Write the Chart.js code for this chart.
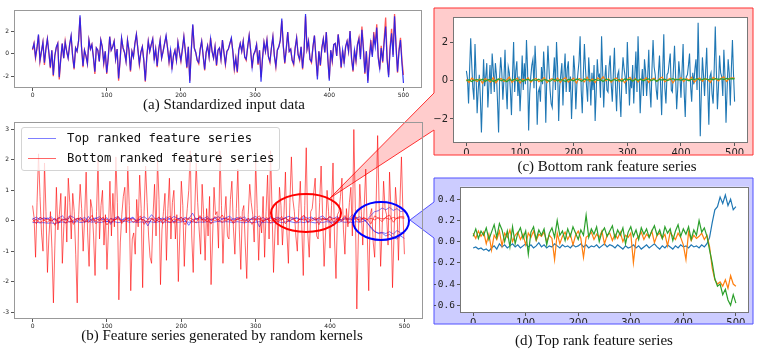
<!DOCTYPE html>
<html>
<head>
<meta charset="utf-8">
<script src="https://cdn.jsdelivr.net/npm/chart.js@4.4.1/dist/chart.umd.min.js"></script>
<style>
  html, body { margin: 0; padding: 0; background: #fff; }
  #fig { position: relative; width: 760px; height: 349px; overflow: hidden; }
  #fig canvas { position: absolute; z-index: 1; }
  svg { position: absolute; left: 0; top: 0; }
  #back { z-index: 0; }
  #front { z-index: 2; }
  .cap { position: absolute; z-index: 3; font-family: "Liberation Serif", "Times New Roman", serif; font-size: 15px;
         line-height: 1; color: #111; white-space: nowrap; transform: translateX(-50%); }
  #legend { position: absolute; z-index: 3; left: 21px; top: 127px; width: 257px; height: 42px;
            background: rgba(255,255,255,0.8); border: 1px solid #d4d4d4; border-radius: 3px; }
  .lg-line { position: absolute; height: 1.3px; width: 28px; left: 6px; }
  .lg-text { position: absolute; left: 45px; font-family: "DejaVu Sans Mono", monospace; font-size: 12.3px;
             line-height: 14px; color: #111; white-space: nowrap; }
</style>
</head>
<body>
<div id="fig">
  <svg id="back" width="760" height="349">
    <polygon points="434,8 753,8 753,155 434,155 434,130 330,198 434,93"
             fill="rgba(255,0,0,0.2)" stroke="#ff3030" stroke-width="1"/>
    <polygon points="434,178 753,178 753,324 434,324 434,238 410,220 434,202"
             fill="rgba(0,0,255,0.2)" stroke="#5050ff" stroke-width="1"/>
  </svg>
  <svg id="front" width="760" height="349">
    <ellipse cx="306" cy="213" rx="35" ry="19" fill="none" stroke="#ff0000" stroke-width="2"/>
    <ellipse cx="381" cy="221" rx="28" ry="19" fill="none" stroke="#0000ff" stroke-width="2"/>
  </svg>
  <div id="legend">
    <div class="lg-line" style="top:10px;background:rgba(0,0,255,0.5)"></div>
    <div class="lg-text" style="top:3px">Top ranked feature series</div>
    <div class="lg-line" style="top:30px;background:rgba(255,0,0,0.6)"></div>
    <div class="lg-text" style="top:23px">Bottom ranked feature series</div>
  </div>
  <div class="cap" style="left:224px;top:97px">(a) Standardized input data</div>
  <div class="cap" style="left:222px;top:328px">(b) Feature series generated by random kernels</div>
  <div class="cap" style="left:607px;top:159px">(c) Bottom rank feature series</div>
  <div class="cap" style="left:594px;top:333px">(d) Top rank feature series</div>
</div>
<script>
// (a) standardized input, sampled every 2 steps
const inputBlue = [
  0.4,0.9,-0.3,0.5,1.7,-0.6,0.2,1.0,-0.8,0.4,1.3,0.1,-1.2,0.3,-1.9,-0.2,0.6,0.9,-2.1,-0.5,
  0.9,-0.4,1.0,0.2,-0.4,0.8,1.6,-0.2,-1.3,0.5,0.2,1.1,3.4,0.6,-1.1,0.3,-0.2,-0.9,1.2,0.4,
  0.8,-0.3,-1.6,0.5,0.3,-0.7,1.2,0.6,-0.8,0.2,-1.7,-0.4,1.5,0.3,0.6,1.1,-0.5,0.4,-2.2,-0.6,
  1.4,0.5,0.1,-0.7,1.2,0.3,-1.5,0.2,-0.3,0.9,1.7,0.4,-0.9,0.1,0.6,-0.6,-2.4,-0.3,1.1,0.2,
  0.8,1.3,-0.5,0.4,-1.1,0.3,1.2,-0.4,0.2,0.9,1.6,0.5,-0.7,0.3,-1.3,-0.2,0.3,-0.6,1.0,0.1,
  -0.6,0.4,1.5,0.2,-1.2,0.6,-2.6,0.3,2.6,0.5,0.1,-0.6,-0.8,0.4,1.1,-0.2,-1.4,0.1,0.7,-0.3,
  1.3,0.2,-0.4,0.6,-1.0,0.3,0.5,-0.5,1.2,0.1,-0.9,0.2,0.4,0.9,1.4,0.2,-1.3,-0.4,-1.6,0.3,
  0.9,0.2,1.1,-0.3,-0.5,0.6,1.6,0.3,-1.2,-0.1,0.2,0.8,-0.9,0.3,-2.5,-0.4,1.0,0.2,1.2,-0.3,
  -0.7,0.5,1.5,-0.2,-1.1,0.3,0.6,1.2,3.1,0.7,-0.8,0.4,1.9,0.2,0.4,-0.6,-0.9,0.5,1.4,-0.1,
  -0.5,0.6,-1.3,0.2,3.5,0.4,1.1,-0.5,-0.7,0.6,1.6,-0.3,-2.3,0.2,-1.0,0.5,1.3,0.1,1.9,-0.4,
  -2.4,0.3,-0.6,0.8,0.9,-0.2,1.7,0.5,-1.2,0.3,-0.8,0.6,1.1,0.2,2.0,-0.4,-1.5,0.3,-0.6,0.8,
  1.3,-0.5,2.1,0.4,-1.7,0.2,-2.6,-0.5,0.9,-0.3,1.5,0.6,2.3,-0.4,-1.3,0.5,-0.7,1.0,2.4,-0.6,
  -2.1,0.4,1.8,-0.3,3.3,0.6,-1.6,0.2,1.2,-0.9,-2.6];
const inputRed = [
  0.3,0.9,-0.4,0.5,1.6,-0.7,0.2,1.0,-1.0,0.4,1.3,0.1,-1.3,0.3,-2.0,-0.2,0.5,0.9,-2.3,-0.5,
  0.9,-0.4,1.1,0.2,-0.4,0.8,1.5,-0.2,-1.4,0.5,0.2,1.1,3.2,0.6,-1.2,0.3,-0.2,-0.9,1.2,0.4,
  0.8,-0.3,-1.8,0.5,0.3,-0.7,1.2,0.6,-0.9,0.2,-1.8,-0.4,1.5,0.3,0.6,1.1,-0.5,0.4,-2.4,-0.6,
  1.3,0.5,0.1,-0.7,1.2,0.3,-1.6,0.2,-0.3,0.9,1.7,0.4,-1.0,0.1,0.6,-0.6,-2.5,-0.3,1.1,0.2,
  0.8,1.3,-0.6,0.4,-1.2,0.3,1.2,-0.4,0.2,0.9,1.5,0.5,-0.8,0.3,-1.4,-0.2,0.3,-0.6,1.0,0.1,
  -0.7,0.4,1.5,0.2,-1.3,0.6,-2.4,0.3,2.5,0.5,0.1,-0.6,-0.9,0.4,1.1,-0.2,-1.5,0.1,0.7,-0.3,
  1.4,0.2,-0.4,0.6,-1.1,0.3,0.5,-0.5,1.2,0.1,-1.0,0.2,0.4,0.9,1.3,0.2,-1.4,-0.4,-1.7,0.3,
  0.9,0.2,1.1,-0.3,-0.6,0.6,1.6,0.3,-1.3,-0.1,0.2,0.8,-1.0,0.3,-2.1,-0.4,1.0,0.2,1.2,-0.3,
  -0.8,0.5,1.5,-0.2,-1.2,0.3,0.6,1.2,2.9,0.7,-0.9,0.4,1.9,0.2,0.4,-0.6,-1.0,0.5,1.4,-0.1,
  -0.6,0.6,-1.4,0.2,3.3,0.4,1.1,-0.5,-0.8,0.6,1.6,-0.3,-2.0,0.2,-1.1,0.5,1.3,0.1,1.9,-0.4,
  -2.2,0.3,-0.7,0.8,0.9,-0.2,1.7,0.5,-1.3,0.3,-0.9,0.6,1.1,0.2,2.0,-0.4,-1.6,0.3,-0.7,0.8,
  1.4,-0.3,2.4,0.6,-1.8,0.2,-2.4,-0.3,1.2,-0.1,1.9,0.8,2.6,-0.2,-1.4,0.7,-0.8,1.3,3.2,-0.4,
  -1.9,0.6,2.2,-0.1,3.5,0.8,-1.7,0.4,1.4,-0.6,-1.9];

// bottom ranked feature series (big one every 2 steps, small ones every 5)
const bottomBlue = [
  0.5,0.1,-1.2,0.6,2.2,0.8,-0.4,-1.0,1.9,0.3,-1.7,-0.5,0.3,-0.9,-2.7,-0.8,1.1,-0.3,0.2,0.9,
  -1.4,-0.2,0.8,-0.7,1.4,0.6,-0.6,0.9,0.3,-1.1,-2.7,0.2,1.2,0.4,-1.0,0.1,1.6,-0.4,-1.5,0.7,
  0.4,-0.5,-1.8,0.3,2.0,-0.6,0.5,1.0,-0.8,0.2,-1.6,-0.3,1.3,-0.5,0.9,-0.2,2.1,0.6,-2.6,-0.7,
  0.2,0.8,1.1,-0.4,1.8,0.5,-2.3,-0.6,-0.4,-1.1,0.7,-0.2,1.5,0.4,-2.2,0.3,1.8,0.6,-0.5,-1.2,
  -1.4,0.2,1.2,-0.5,2.0,0.7,-2.1,-0.3,0.3,0.9,-1.3,0.4,1.4,-0.6,0.6,1.0,-0.6,0.2,-2.0,-0.4,
  1.3,0.5,-1.5,-0.2,0.4,1.0,2.3,-0.5,-1.7,0.3,1.9,0.6,-0.3,-1.1,1.2,0.2,-1.3,0.4,-0.5,0.8,
  -2.1,-0.6,1.1,0.2,0.3,-0.9,2.3,0.5,-1.4,0.1,0.8,-0.5,-0.6,0.7,1.3,-0.2,-1.1,0.4,1.7,-0.3,
  -1.6,0.3,0.5,-0.8,-1.9,0.2,1.2,0.6,0.2,-0.7,2.0,0.4,-1.3,0.1,-0.4,0.8,-1.2,0.3,1.5,-0.6,
  2.3,0.4,-1.7,-0.3,0.6,-0.8,1.1,0.5,-0.8,0.2,1.6,-0.4,-1.4,0.6,2.1,0.7,0.3,-0.5,-1.0,0.4,
  1.3,-0.2,-1.8,0.5,2.4,-0.4,-1.2,0.3,0.4,0.9,1.4,-0.5,-0.6,0.6,1.8,0.2,-1.5,-0.4,1.0,0.3,
  -0.9,0.5,1.9,-0.6,-1.9,0.2,0.3,0.8,1.4,-0.3,-1.1,0.4,-0.2,0.6,1.1,-0.5,3.0,0.4,-2.9,-0.6,
  1.2,0.3,-0.8,0.5,1.7,-0.4,-2.3,0.2,0.4,-0.7,-1.2,0.6,2.8,0.5,-1.5,-0.3,1.3,0.4,0.2,-0.8,
  1.6,0.3,-2.2,-0.5,1.1,0.4,-1.3,0.6,2.1,0.3,-1.1];
const bottomOrange = [0.05,-0.1,0.12,0.02,-0.05,0.08,-0.15,0.1,0.02,-0.08,
  0.15,-0.12,0.06,0.1,-0.05,0.03,0.18,-0.1,0.03,0.12,
  -0.14,0.07,0.0,0.14,-0.09,0.05,0.11,-0.06,0.02,0.16,
  -0.12,0.04,0.09,-0.05,0.13,-0.1,0.07,0.15,-0.08,0.02,
  0.12,-0.13,0.1,0.05,-0.07,0.17,-0.04,0.08,-0.11,0.14,
  0.03,0.19,-0.02,0.1,-0.09,0.06,0.13,-0.06,0.09,-0.12,
  0.05,0.16,-0.03,0.11,-0.08,0.07,0.02,0.14,-0.1,0.06,
  0.12,-0.05,0.09,0.18,-0.07,0.04,0.11,-0.13,0.08,0.03,
  0.15,-0.06,0.1,0.02,0.17,-0.09,0.07,0.13,-0.04,0.11,
  0.05,-0.1,0.16,0.08,-0.03,0.12,0.19,-0.05,0.1,0.14,
  0.12];
const bottomGreen = [-0.03,0.04,-0.06,0.02,0.05,0.0,0.07,-0.04,0.03,0.06,
  -0.05,0.02,0.08,-0.02,0.05,-0.06,0.04,0.01,0.07,-0.03,
  0.05,-0.05,0.03,0.06,-0.02,0.04,0.0,0.07,-0.04,0.05,
  0.02,-0.06,0.04,0.06,-0.03,0.05,0.01,-0.05,0.06,0.03,
  -0.02,0.07,0.04,-0.04,0.08,0.02,0.05,-0.03,0.06,0.01,
  0.04,-0.05,0.07,0.03,-0.02,0.06,0.0,0.05,-0.04,0.08,
  0.03,0.06,-0.03,0.05,0.01,0.07,-0.02,0.04,0.08,0.0,
  0.05,-0.04,0.06,0.02,0.07,-0.01,0.05,0.09,0.03,0.06,
  0.01,0.08,0.04,-0.02,0.07,0.05,0.1,0.02,0.06,0.09,
  0.04,0.08,0.03,0.1,0.06,0.09,0.05,0.11,0.07,0.1,
  0.08];

// top ranked feature series (every 5 steps)
const topBlue = [-0.06,-0.05,-0.07,-0.06,-0.08,-0.07,-0.09,-0.06,-0.04,-0.07, -0.02,-0.05,-0.03,-0.06,-0.04,-0.02,-0.05,-0.03,-0.06,-0.04,
  -0.02,-0.05,-0.03,-0.06,-0.04,-0.01,-0.05,-0.03,-0.06,-0.04, -0.05,-0.02,-0.04,-0.06,-0.03,-0.05,-0.04,-0.06,-0.03,-0.05,
  -0.04,-0.02,-0.05,-0.03,-0.06,-0.04,-0.05,-0.03,-0.06,-0.04, -0.02,-0.05,-0.03,-0.04,-0.06,-0.03,-0.05,-0.07,-0.04,-0.06,
  -0.05,-0.03,-0.06,-0.04,-0.07,-0.05,-0.03,-0.06,-0.04,-0.02, -0.05,-0.07,-0.04,-0.06,-0.03,-0.05,-0.07,-0.04,-0.06,-0.03,
  -0.05,-0.04,-0.06,-0.03,-0.05,-0.04,-0.06,-0.03,-0.05,-0.02, 0.04,0.18,0.3,0.33,0.42,0.36,0.44,0.34,0.4,0.3, 0.33];
const topOrange = [0.08,0.03,0.1,0.05,0.09,-0.02,0.07,-0.08,0.06,0.02, 0.1,-0.04,0.08,0.04,0.11,0.0,0.06,0.09,0.02,0.07,
  -0.03,0.08,0.04,0.1,0.01,0.07,0.05,0.09,0.0,0.06, 0.03,-0.17,0.08,-0.02,0.05,0.09,0.02,0.07,-0.03,0.06,
  0.1,0.03,-0.15,0.04,0.06,0.09,0.02,0.07,0.04,0.1, -0.02,0.06,0.08,0.01,0.07,0.03,0.09,0.0,0.06,0.04,
  0.08,-0.2,0.02,0.05,0.09,0.02,0.07,0.04,0.1,-0.01, 0.06,0.08,0.03,0.07,-0.04,0.09,0.05,0.02,0.08,0.04,
  -0.03,-0.17,0.09,0.01,0.06,0.03,0.05,0.08,0.02,0.06, -0.05,-0.25,-0.36,-0.4,-0.38,-0.42,-0.36,-0.44,-0.32,-0.4, -0.42];
const topGreen = [0.05,0.12,0.03,0.1,0.06,0.13,0.02,0.09,0.16,0.04, 0.17,0.11,0.0,0.1,-0.05,0.14,-0.02,0.08,0.13,0.03,
  0.1,-0.12,0.09,0.14,0.02,0.11,0.06,0.12,-0.03,0.08, 0.13,0.04,0.2,0.06,0.1,0.01,0.12,0.05,0.14,0.08,
  0.02,0.11,0.06,0.25,0.04,0.12,0.07,0.14,0.0,0.09, 0.13,0.05,0.1,0.15,0.03,0.11,0.06,0.13,-0.02,0.09,
  0.14,0.05,0.11,0.02,0.13,0.07,0.12,0.04,0.1,0.15, 0.06,0.11,0.03,0.14,0.08,0.12,0.01,0.1,0.16,0.05,
  0.12,0.07,0.14,0.02,0.11,0.06,0.2,0.09,0.13,0.05, -0.08,-0.2,-0.35,-0.42,-0.4,-0.5,-0.45,-0.55,-0.6,-0.5, -0.58];

// tick labels
const xTicks = [0, 100, 200, 300, 400, 500];
const aYTicks = [-2, 0, 2];
const bYTicks = [-3, -2, -1, 0, 1, 2, 3];
const cYTicks = [-2, 0, 2];
const cYLabels = ['\u22122', '0', '2'];
const dYTicks = [-0.6, -0.4, -0.2, 0, 0.2, 0.4];
const dYLabels = ['-0.6', '-0.4', '-0.2', '0.0', '0.2', '0.4'];

// sample index -> time step
const pts = (ys, step) => ys.map((y, i) => ({ x: i * step, y }));

const frameLine = {
  id: 'frameLine',
  beforeDatasetsDraw(chart, args, o) {
    if (!o.fill) return;
    const a = chart.chartArea, c = chart.ctx;
    c.save();
    c.fillStyle = o.fill;
    c.fillRect(a.left, a.top, a.right - a.left, a.bottom - a.top);
    c.restore();
  },
  afterDatasetsDraw(chart, args, o) {
    const a = chart.chartArea, c = chart.ctx;
    c.save();
    c.strokeStyle = o.color;
    c.lineWidth = 1;
    c.strokeRect(Math.round(a.left) + 0.5, Math.round(a.top) + 0.5,
                 Math.round(a.right - a.left) - 1, Math.round(a.bottom - a.top) - 1);
    c.restore();
  }
};

function line(ys, step, color, width, order) {
  return { data: pts(ys, step), borderColor: color, borderWidth: width, order: order,
           pointRadius: 0, fill: false, tension: 0 };
}

function panel(box, frame, datasets, yRange, yTicks, yLabels, xFont, yFont, frameColor, fill) {
  const cv = document.createElement('canvas');
  cv.width = box.w; cv.height = box.h;
  cv.style.left = box.x + 'px'; cv.style.top = box.y + 'px';
  document.getElementById('fig').appendChild(cv);
  const yW = frame.l - box.x, xH = box.y + box.h - frame.b;
  return new Chart(cv, {
    type: 'line',
    data: { datasets: datasets },
    options: {
      responsive: false, animation: false, devicePixelRatio: 1,
      layout: { padding: { left: 0, top: frame.t - box.y, right: box.x + box.w - frame.r, bottom: 0 } },
      plugins: { legend: { display: false }, tooltip: { enabled: false },
                 frameLine: { color: frameColor, fill: fill } },
      scales: {
        x: {
          type: 'linear', min: -25, max: 525,
          afterFit: s => { s.height = xH; },
          afterBuildTicks: s => { s.ticks = xTicks.map(v => ({ value: v })); },
          ticks: { font: xFont, color: '#222', padding: 1, maxRotation: 0, autoSkip: false,
                   callback: v => String(v) },
          grid: { drawOnChartArea: false, tickLength: 3, color: '#555' },
          border: { display: false }
        },
        y: {
          type: 'linear', min: yRange[0], max: yRange[1],
          afterFit: s => { s.width = yW; },
          afterBuildTicks: s => { s.ticks = yTicks.map(v => ({ value: v })); },
          ticks: { font: yFont, color: '#222', padding: 2, autoSkip: false,
                   callback: (v, i) => yLabels[i] },
          grid: { drawOnChartArea: false, tickLength: 3, color: '#555' },
          border: { display: false }
        }
      }
    },
    plugins: [frameLine]
  });
}

const small = { family: 'DejaVu Sans', size: 6 };
const mid = { family: 'DejaVu Sans', size: 10 };
const mono = { family: 'DejaVu Sans Mono', size: 9.5 };

// (a)
panel({ x: 0, y: 4, w: 430, h: 98 }, { l: 14, t: 8, r: 422, b: 88 },
  [line(inputBlue, 2, 'rgba(30,30,240,0.9)', 1.2, 1),
   line(inputRed, 2, 'rgba(255,30,30,0.75)', 1.3, 2)],
  [-3.05, 3.9], aYTicks, aYTicks.map(String), small, small, '#999', null);

// (b)
panel({ x: 0, y: 116, w: 430, h: 217 }, { l: 14, t: 120, r: 423, b: 319 },
  [line(topBlue, 5, 'rgba(0,0,255,0.55)', 1, 2),
   line(topOrange, 5, 'rgba(0,0,255,0.55)', 1, 2),
   line(topGreen, 5, 'rgba(0,0,255,0.55)', 1, 2),
   line(bottomBlue, 2, 'rgba(255,0,0,0.6)', 1, 1),
   line(bottomOrange, 5, 'rgba(255,0,0,0.6)', 1, 1),
   line(bottomGreen, 5, 'rgba(255,0,0,0.6)', 1, 1)],
  [-3.23, 3.26], bYTicks, bYTicks.map(String), small, small, '#999', null);

// (c)
panel({ x: 434, y: 9, w: 318, h: 145 }, { l: 453, t: 12, r: 748, b: 143 },
  [line(bottomBlue, 2, '#1f77b4', 1.1, 3),
   line(bottomOrange, 5, '#ff7f0e', 1.2, 2),
   line(bottomGreen, 5, '#2ca02c', 1.2, 1)],
  [-3.25, 3.3], cYTicks, cYLabels, mid, mid, '#777', '#fff');

// (d)
panel({ x: 434, y: 179, w: 318, h: 144 }, { l: 460, t: 182, r: 749, b: 313 },
  [line(topBlue, 5, '#1f77b4', 1.2, 3),
   line(topOrange, 5, '#ff7f0e', 1.2, 2),
   line(topGreen, 5, '#2ca02c', 1.2, 1)],
  [-0.673, 0.518], dYTicks, dYLabels, mid, mono, '#777', '#fff');
</script>
</body>
</html>
